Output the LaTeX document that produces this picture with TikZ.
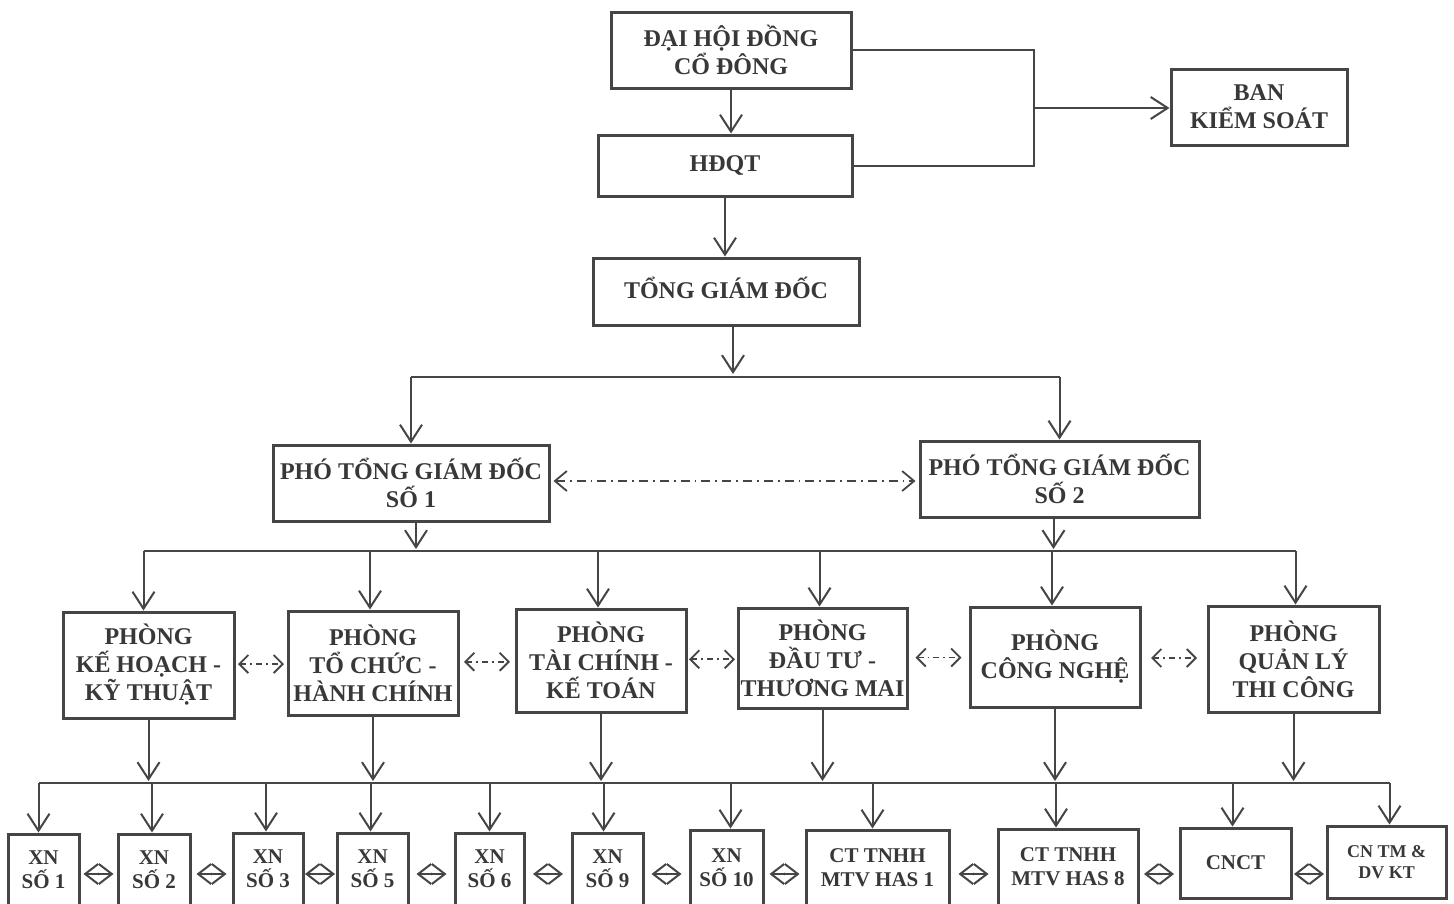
\documentclass[tikz,border=0pt]{standalone}
\usepackage{fontspec}
\setmainfont{Liberation Serif}
\usetikzlibrary{arrows.meta,calc}
\definecolor{lc}{HTML}{454545}
\definecolor{tc}{HTML}{383838}
\begin{document}
\begin{tikzpicture}[x=1pt,y=-1pt,
  box/.style={draw=lc, line width=3pt, fill=white, text=tc, align=center, inner sep=0pt,
              font=\bfseries\fontsize{24}{28}\selectfont},
  sbox/.style={box, font=\bfseries\fontsize{21}{24}\selectfont},
  tbox/.style={box, font=\bfseries\fontsize{18}{21}\selectfont},
  bx/.style 2 args={minimum width=#1pt, minimum height=#2pt},
  ln/.style={draw=lc, line width=2pt},
  arr/.style={draw=lc, line width=2pt, -{Straight Barb[length=17pt,width=22pt,line width=2pt]}},
  dd/.style={draw=lc, line width=1.8pt, dash pattern=on 9pt off 5pt on 1.8pt off 5pt,
             {Straight Barb[length=12pt,width=20pt,line width=1.8pt]}-{Straight Barb[length=12pt,width=20pt,line width=1.8pt]}},
  pc/.style={draw=lc, line width=1.8pt, dash pattern=on 6pt off 4pt on 1.8pt off 4pt,
             {Straight Barb[length=9pt,width=18pt,line width=1.8pt]}-{Straight Barb[length=9pt,width=18pt,line width=1.8pt]}},
  bc/.style={draw=lc, line width=2pt,
             {Straight Barb[length=13pt,width=20pt,line width=2pt]}-{Straight Barb[length=13pt,width=20pt,line width=2pt]}},
  dotn/.style={circle, fill=lc, inner sep=0pt, minimum size=2.8pt}
]
\useasboundingbox[fill=white] (0,0) rectangle (1454,903);
\clip (0,0) rectangle (1454,903);

% top levels
\node[box, bx={240}{76}] (dh) at (731,50) {ĐẠI HỘI ĐỒNG\\CỔ ĐÔNG};
\node[box, bx={254}{61}] (hd) at (725,165.5) {\raisebox{4pt}{HĐQT}};
\node[box, bx={176}{76}] (bks) at (1259,107) {BAN\\KIỂM SOÁT};
\node[box, bx={266}{67}] (tgd) at (726,291.5) {\raisebox{7pt}{TỔNG GIÁM ĐỐC}};
\node[box, bx={276}{76}] (p1) at (411,483) {PHÓ TỔNG GIÁM ĐỐC\\SỐ 1};
\node[box, bx={279}{76}] (p2) at (1059.5,479) {PHÓ TỔNG GIÁM ĐỐC\\SỐ 2};

% departments
\node[box, bx={171}{106}] (k1) at (148.5,665) {PHÒNG\\KẾ HOẠCH -\\KỸ THUẬT};
\node[box, bx={170}{104}] (k2) at (373,663) {PHÒNG\\TỔ CHỨC -\\HÀNH CHÍNH};
\node[box, bx={170}{103}] (k3) at (601,660.5) {PHÒNG\\TÀI CHÍNH -\\KẾ TOÁN};
\node[box, bx={169}{100}] (k4) at (822.5,658) {PHÒNG\\ĐẦU TƯ -\\THƯƠNG MAI};
\node[box, bx={170}{100}] (k5) at (1055,657) {PHÒNG\\CÔNG NGHỆ};
\node[box, bx={171}{106}] (k6) at (1293.5,659) {PHÒNG\\QUẢN LÝ\\THI CÔNG};

% units
\node[sbox, bx={71}{72}] (x1) at (43.5,870) {XN\\SỐ 1};
\node[sbox, bx={72}{72}] (x2) at (154,870) {XN\\SỐ 2};
\node[sbox, bx={70}{72}] (x3) at (268,869) {XN\\SỐ 3};
\node[sbox, bx={71}{72}] (x5) at (372.5,869) {XN\\SỐ 5};
\node[sbox, bx={69}{72}] (x6) at (489.5,869) {XN\\SỐ 6};
\node[sbox, bx={71}{72}] (x9) at (607.5,869) {XN\\SỐ 9};
\node[sbox, bx={73}{76}] (x10) at (726.5,868) {XN\\SỐ 10};
\node[sbox, bx={143}{76}] (h1) at (877.5,868) {CT TNHH\\MTV HAS 1};
\node[sbox, bx={140}{76}] (h8) at (1068,867) {CT TNHH\\MTV HAS 8};
\node[sbox, bx={111}{70}] (cnct) at (1235.5,863) {CNCT};
\node[tbox, bx={119}{72}] (cntm) at (1386.5,862) {CN TM \&\\DV KT};

% top connectors
\draw[arr] (dh.south) -- (dh.south |- hd.north);
\coordinate (j1) at (1034,108);
\draw[ln] (dh.east) -| (j1) |- (hd.east);
\draw[arr] (j1) -- (j1 -| bks.west);
\draw[arr] (hd.south) -- (hd.south |- tgd.north);

\coordinate (j2) at (733,377);
\draw[arr] (tgd.south -| j2) -- ($(j2)+(0,-3)$);
\draw[ln] (p1.north |- j2) -- (p2.north |- j2);
\draw[arr] (p1.north |- j2) -- (p1.north);
\draw[arr] (p2.north |- j2) -- (p2.north);

\draw[dd] ($(p1.east)+(3,-2)$) -- ($(p1.east -| p2.west)+(-3,-2)$);

% to departments
\coordinate (j3) at (0,551);
\draw[arr] ($(p1.south)+(5,0)$) -- ($(p1.south |- j3)+(5,-2)$);
\draw[arr] ($(p2.south)+(-6,0)$) -- ($(p2.south |- j3)+(-6,-2)$);
\draw[ln] ($(k1.north |- j3)+(-5,0)$) -- ($(k6.north |- j3)+(2,0)$);
\foreach \k/\d in {k1/-5,k2/-3,k3/-3,k4/-3,k5/-3,k6/2}
  \draw[arr] ($(\k.north |- j3)+(\d,0)$) -- ($(\k.north)+(\d,0)$);

\foreach \a/\b in {k1/k2,k2/k3,k3/k4,k4/k5,k5/k6}{
  \coordinate (m) at ($(\a.east)!0.5!(\b.west)$);
  \draw[pc] ($(m)+(-23,0)$) -- ($(m)+(23,0)$);
}

% to units
\coordinate (j4) at (0,783);
\foreach \k in {k1,k2,k3,k4,k5,k6}
  \draw[arr] (\k.south) -- ($(\k.south |- j4)+(0,-2)$);
\draw[ln] ($(x1.north |- j4)+(-5,0)$) -- ($(cntm.north |- j4)+(3,0)$);
\foreach \b/\d in {x1/-5,x2/-2,x3/-2,x5/-2,x6/0,x9/-4,x10/4,h1/-5,h8/-12,cnct/-3,cntm/3}
  \draw[arr] ($(\b.north |- j4)+(\d,0)$) -- ($(\b.north)+(\d,0)$);

\coordinate (j5) at (0,874);
\foreach \a/\b in {x1/x2,x2/x3,x3/x5,x5/x6,x6/x9,x9/x10,x10/h1,h1/h8,h8/cnct,cnct/cntm}{
  \coordinate (m) at ($(\a.east |- j5)!0.5!(\b.west |- j5)$);
  \draw[bc] ($(m)+(-15,0)$) -- node[dotn]{} ($(m)+(15,0)$);
}
\end{tikzpicture}
\end{document}
